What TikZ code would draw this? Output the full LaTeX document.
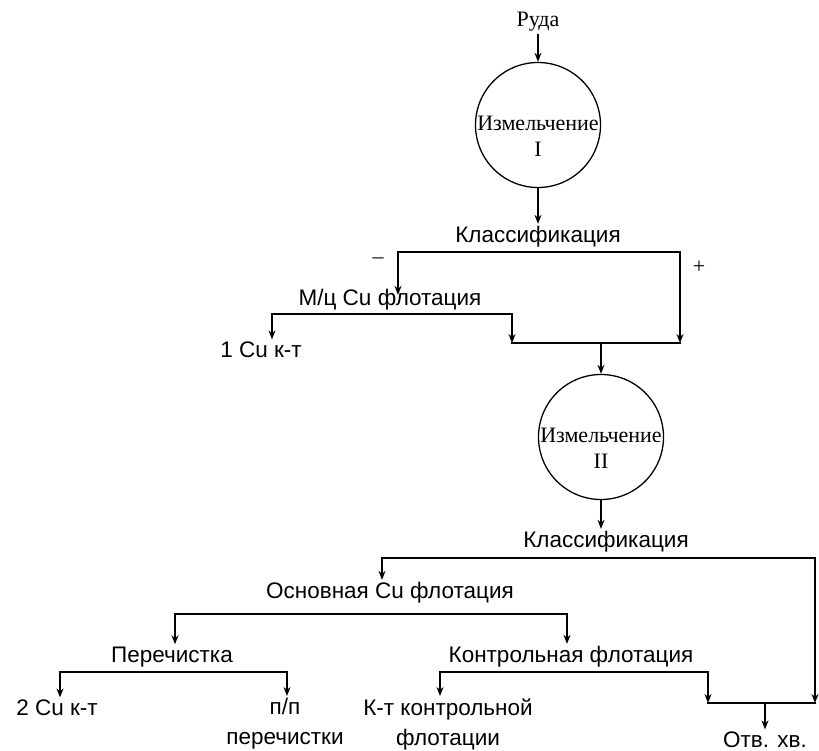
\documentclass[tikz,border=0pt]{standalone}
\usepackage{fontspec}
\setmainfont{Liberation Sans}
\newfontfamily\rmcyr{Liberation Serif}
\usetikzlibrary{arrows.meta}

\begin{document}
\begin{tikzpicture}[->,>={Stealth[length=9pt,width=7pt]},x=1pt,y=-1pt,
                    line width=1.3pt,line cap=rect,inner sep=2pt,
                    font=\fontsize{22.5}{30}\selectfont]
  \tikzstyle{mill}=[circle,draw,minimum size=125pt,inner sep=0pt]
  \tikzstyle{serif}=[font=\rmcyr\fontsize{22}{26}\selectfont,align=center]
  \tikzstyle{two}=[align=center,anchor=north]

  \useasboundingbox (0,0) rectangle (819,751);

  \node[serif] (ruda) at (538,22)  {Руда};
  \node[mill]  (m1)   at (538,125) {};
  \node[serif] (m1t)  at ([yshift=-11pt]m1) {Измельчение\\I};
  \node        (cls1) at (538,237) {Классификация};
  \node[serif] (minus) at (378,261) {–};
  \node[serif] (plus)  at (699,267) {+};
  \node        (mcf)  at (390,300) {М/ц Cu флотация};
  \node        (cu1)  at (261,350) {1 Cu к-т};
  \node[mill]  (m2)   at (601,437) {};
  \node[serif] (m2t)  at ([yshift=-11pt]m2) {Измельчение\\II};
  \node        (cls2) at (606,542) {Классификация};
  \node        (osn)  at (390,593) {Основная Cu флотация};
  \node        (per)  at (172,657) {Перечистка};
  \node        (kon)  at (571,657) {Контрольная флотация};
  \node        (cu2)  at (57,708)  {2 Cu к-т};
  \node[two]   (pp)   at (285,696) {п/п\\перечистки};
  \node[two]   (ktk)  at (448,696) {К-т контрольной\\флотации};
  \node        (otv)  at (765,740) {Отв. хв.};

  \coordinate (k1w) at (398,252);
  \coordinate (k1e) at (680,252);
  \coordinate (f1w) at (272,314);
  \coordinate (f1e) at (512,314);
  \coordinate (s1w) at (512,343);
  \coordinate (s1)  at (601,343);
  \coordinate (s1e) at (680,343);
  \coordinate (k2w) at (382,558);
  \coordinate (k2e) at (815,558);
  \coordinate (o1w) at (175,614);
  \coordinate (o1e) at (567,614);
  \coordinate (p1w) at (60,672);
  \coordinate (p1e) at (287,672);
  \coordinate (c1w) at (440,672);
  \coordinate (c1e) at (708,672);
  \coordinate (s2w) at (708,703);
  \coordinate (s2)  at (765,703);
  \coordinate (s2e) at (815,703);

  % first grinding stage
  \draw (ruda) -- (m1);
  \draw (m1) -- (cls1);
  \draw[shorten >=-8pt] (k1e) -- (k1w) -- (k1w |- mcf.north);
  \draw (k1e) -- (s1e);
  \draw (f1e) -- (f1w) -- (f1w |- cu1.north);
  \draw (f1e) -- (s1w);
  \draw[-] (s1w) -- (s1e);
  \draw (s1) -- (m2);

  % second grinding stage
  \draw (m2) -- (m2 |- cls2.north);
  \draw (k2e) -- (k2w) -- (k2w |- osn.north);
  \draw (k2e) -- (s2e);
  \draw (o1e) -- (o1w) -- (o1w |- per.north);
  \draw (o1e) -- (o1e |- kon.north);
  \draw (p1e) -- (p1w) -- (p1w |- cu2.north);
  \draw (p1e) -- (p1e |- pp.north);
  \draw (c1e) -- (c1w) -- (c1w |- ktk.north);
  \draw (c1e) -- (s2w);
  \draw[-] (s2w) -- (s2e);
  \draw (s2) -- (otv);

\end{tikzpicture}
\end{document}
